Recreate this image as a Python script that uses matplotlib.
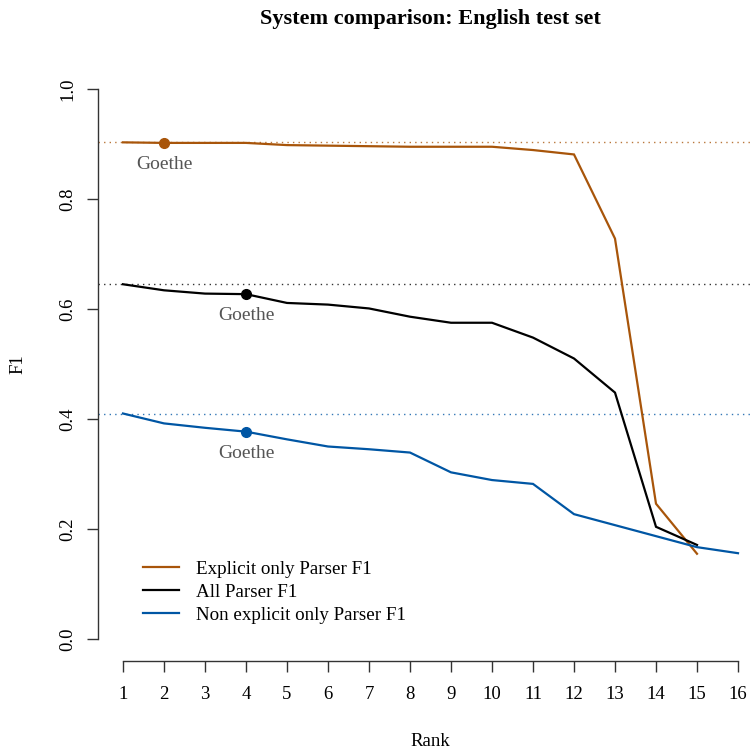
import matplotlib
matplotlib.use("Agg")
import matplotlib.pyplot as plt
from matplotlib.lines import Line2D

ranks = list(range(1, 17))
explicit_ranks = list(range(1, 16))
explicit_f1 = [0.903, 0.902, 0.902, 0.902, 0.898, 0.897, 0.896, 0.895, 0.895, 0.895,
               0.889, 0.881, 0.728, 0.246, 0.155]
all_ranks = list(range(1, 16))
all_f1 = [0.645, 0.634, 0.628, 0.627, 0.611, 0.608, 0.601, 0.586, 0.575, 0.575,
          0.548, 0.510, 0.448, 0.204, 0.171]
nonexp_ranks = list(range(1, 17))
nonexp_f1 = [0.410, 0.392, 0.384, 0.377, 0.363, 0.350, 0.345, 0.339, 0.303, 0.289,
             0.282, 0.227, 0.207, 0.187, 0.167, 0.156]
goethe_rank = {"explicit": 2, "all": 4, "nonexp": 4}
labels = ["Explicit only Parser F1", "All Parser F1", "Non explicit only Parser F1"]
yticks = [0.0, 0.2, 0.4, 0.6, 0.8, 1.0]

c_orange = "#A8550A"
c_black = "#000000"
c_blue = "#0056A4"
grey = "#555555"

plt.rcParams['font.family'] = ['Liberation Serif', 'DejaVu Serif']

W, H = 753, 756
fig = plt.figure(figsize=(W / 100, H / 100), dpi=100)
left = 98.4 / W
bottom = (H - 661) / H
width = 664.2 / W
height = 594 / H
ax = fig.add_axes([left, bottom, width, height])
ax.set_xlim(0.4, 16.6)
ax.set_ylim(-0.04, 1.04)

series = [
    (explicit_ranks, explicit_f1, c_orange, "explicit"),
    (all_ranks, all_f1, c_black, "all"),
    (nonexp_ranks, nonexp_f1, c_blue, "nonexp"),
]
for xs, ys, col, key in series:
    ax.axhline(ys[0], color=col, lw=1.0, ls=(0, (1, 3)), alpha=0.8, zorder=1)
    ax.plot(xs, ys, color=col, lw=1.6, zorder=3, solid_joinstyle='miter')
    r = goethe_rank[key]
    yv = ys[xs.index(r)]
    ax.plot([r], [yv], 'o', color=col, ms=7, zorder=4)
    ax.annotate("Goethe", (r, yv), xytext=(0, -15.5), textcoords='offset points',
                ha='center', va='center', fontsize=14, color=grey)

for s in ['top', 'right']:
    ax.spines[s].set_visible(False)
ax.spines['left'].set_bounds(0, 1)
ax.spines['bottom'].set_bounds(1, 16)
for s in ['left', 'bottom']:
    ax.spines[s].set_color('#333333')
    ax.spines[s].set_linewidth(1.0)

ax.set_xticks(ranks)
ax.set_xticklabels([str(r) for r in ranks])
ax.set_yticks(yticks)
ax.set_yticklabels([f"{v:.1f}" for v in yticks], rotation=90, va='center')
ax.tick_params(axis='both', length=8, width=1.0, color='#333333', labelsize=13.5, pad=10)
ax.tick_params(axis='y', pad=8)

fig.text(430 / W, 1 - 19 / H, "System comparison: English test set", ha='center', va='center',
         fontsize=16, fontweight='bold')
fig.text(430 / W, 1 - 742 / H, "Rank", ha='center', va='center', fontsize=13.5)
fig.text(18 / W, 1 - 364 / H, "F1", ha='center', va='center', fontsize=13.5, rotation=90)

handles = [Line2D([0], [0], color=c, lw=1.6) for c in (c_orange, c_black, c_blue)]
leg = ax.legend(handles, labels, loc='upper left', frameon=False, fontsize=13.7,
                bbox_to_anchor=(135 / W, 1 - 553 / H), bbox_transform=fig.transFigure,
                handlelength=1.9, handletextpad=0.9, labelspacing=0.3, borderaxespad=0)

fig.savefig("out.png", dpi=100)
